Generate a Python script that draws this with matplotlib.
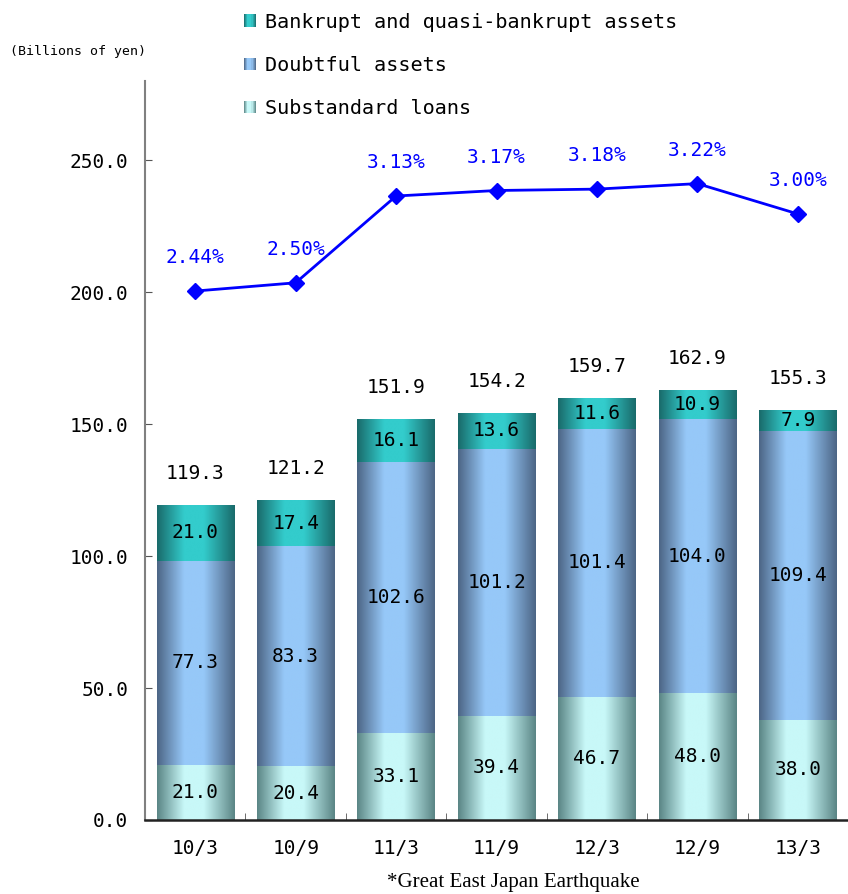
import numpy as np
import matplotlib.pyplot as plt
from matplotlib.colors import LinearSegmentedColormap
from matplotlib.patches import Rectangle
from matplotlib.legend_handler import HandlerBase

plt.rcParams['font.family'] = ['DejaVu Sans Mono', 'DejaVu Sans']

# data (billions of yen)
periods = ['10/3', '10/9', '11/3', '11/9', '12/3', '12/9', '13/3']
substandard = [21.0, 20.4, 33.1, 39.4, 46.7, 48.0, 38.0]
doubtful = [77.3, 83.3, 102.6, 101.2, 101.4, 104.0, 109.4]
bankrupt = [21.0, 17.4, 16.1, 13.6, 11.6, 10.9, 7.9]
totals = [119.3, 121.2, 151.9, 154.2, 159.7, 162.9, 155.3]
ratio = [2.44, 2.50, 3.13, 3.17, 3.18, 3.22, 3.00]

# horizontal gradients: dark edge -> light middle -> dark edge
def grad_cmap(name, dark, light):
    return LinearSegmentedColormap.from_list(
        name, [(0.0, dark), (0.35, light), (0.6, light), (1.0, dark)])

cm_sub = grad_cmap('sub', '#5a8585', '#c8f8f8')
cm_dbt = grad_cmap('dbt', '#4c6585', '#96c8f8')
cm_bkr = grad_cmap('bkr', '#196a6a', '#33cccc')

grad = np.linspace(0, 1, 256).reshape(1, -1)

def fill_gradient(ax, bars, cmap):
    for b in bars:
        x0, y0 = b.get_x(), b.get_y()
        w, h = b.get_width(), b.get_height()
        ax.imshow(grad, cmap=cmap, aspect='auto', interpolation='bilinear',
                  extent=(x0, x0 + w, y0, y0 + h), zorder=2)


class GradHandler(HandlerBase):
    def __init__(self, cmap):
        super().__init__()
        self.cmap = cmap

    def create_artists(self, legend, orig, xd, yd, w, h, fontsize, trans):
        s = h * 0.9
        n = 10
        arts = []
        for i in range(n):
            r = Rectangle((-xd + i * s / n, -yd + (h - s) / 2), s / n, s,
                          facecolor=self.cmap((i + 0.5) / n), edgecolor='none',
                          transform=trans)
            arts.append(r)
        return arts


fig = plt.figure(figsize=(8.48, 8.94), dpi=100)
ax = fig.add_axes([0.171, 0.0828, 0.829, 0.8266])

x = np.arange(len(periods))
w = 0.77
b1 = ax.bar(x, substandard, w, facecolor='none', edgecolor='none')
b2 = ax.bar(x, doubtful, w, bottom=substandard, facecolor='none', edgecolor='none')
bot3 = np.array(substandard) + np.array(doubtful)
b3 = ax.bar(x, bankrupt, w, bottom=bot3, facecolor='none', edgecolor='none')
fill_gradient(ax, b1, cm_sub)
fill_gradient(ax, b2, cm_dbt)
fill_gradient(ax, b3, cm_bkr)

fs = 14
for bars, vals in [(b1, substandard), (b2, doubtful), (b3, bankrupt)]:
    for b, v in zip(bars, vals):
        ax.text(b.get_x() + b.get_width() / 2, b.get_y() + b.get_height() / 2,
                f'{v:.1f}', ha='center', va='center', fontsize=fs, zorder=5)

for i, t in enumerate(totals):
    ax.annotate(f'{t:.1f}', (x[i], bot3[i] + bankrupt[i]), xytext=(0, 23),
                textcoords='offset points', ha='center', va='center', fontsize=fs)

ax.set_xlim(-0.5, len(periods) - 0.5)
ax.set_ylim(0, 280)
ax.set_yticks(np.arange(0, 251, 50))
ax.set_yticklabels([f'{v:.1f}' for v in np.arange(0, 251, 50)])
ax.set_xticks(x)
ax.set_xticklabels(periods)
ax.set_xticks(np.arange(-0.5, len(periods), 1), minor=True)
ax.tick_params(axis='x', which='major', length=0, pad=14, labelsize=fs)
ax.tick_params(axis='x', which='minor', direction='in', length=5, color='#555555')
ax.tick_params(axis='y', direction='in', length=5, color='#555555', pad=12, labelsize=fs)
for s in ['top', 'right']:
    ax.spines[s].set_visible(False)
ax.spines['left'].set_color('#808080')
ax.spines['left'].set_linewidth(1.5)
ax.spines['bottom'].set_color('#222222')
ax.spines['bottom'].set_linewidth(1.8)

# ratio line on hidden secondary axis
ax2 = ax.twinx()
ax2.set_ylim(-1.4, 3.965)
ax2.plot(x, ratio, color='#0000ff', lw=2, marker='D', markersize=8, zorder=6)
for i, r in enumerate(ratio):
    ax2.annotate(f'{r:.2f}%', (x[i], r), xytext=(0, 24), textcoords='offset points',
                 ha='center', va='center', fontsize=fs, color='#0000ff')
ax2.axis('off')

fig.text(0.012, 0.942, '(Billions of yen)', fontsize=9.5, va='center')

handles = [Rectangle((0, 0), 1, 1), Rectangle((0, 0), 1, 1), Rectangle((0, 0), 1, 1)]
labels = ['Bankrupt and quasi-bankrupt assets', 'Doubtful assets', 'Substandard loans']
fig.legend(handles, labels, loc='upper left', bbox_to_anchor=(0.266, 1.006),
           frameon=False, fontsize=14.5, handlelength=0.7, handleheight=0.7,
           handletextpad=0.35, labelspacing=1.2,
           handler_map={handles[0]: GradHandler(cm_bkr),
                        handles[1]: GradHandler(cm_dbt),
                        handles[2]: GradHandler(cm_sub)})

fig.text(0.605, 0.0125, '*Great East Japan Earthquake', fontsize=15,
         family='Liberation Serif', ha='center', va='center')

fig.savefig('out.png', dpi=100)
